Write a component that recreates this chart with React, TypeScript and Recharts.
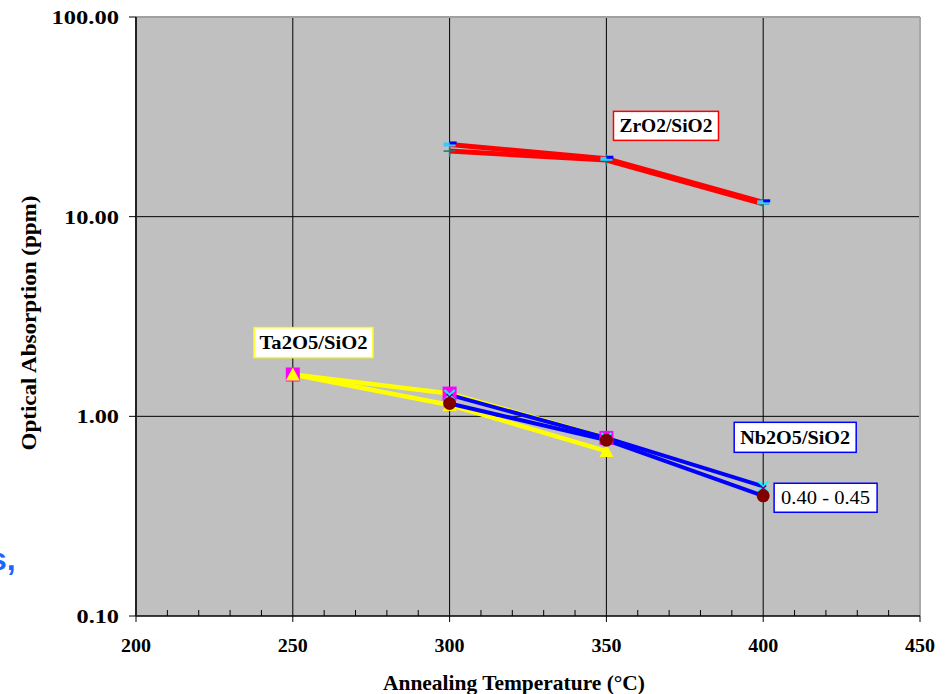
import React from 'react';
import { LineChart, Line, XAxis, YAxis, CartesianGrid, ReferenceLine, ReferenceDot, Label } from 'recharts';

// ---- data ----
const xTicks = [200, 210, 220, 230, 240, 250, 260, 270, 280, 290, 300, 310, 320, 330, 340, 350, 360, 370, 380, 390, 400, 410, 420, 430, 440, 450];
const yTicks = [0.1, 1, 10, 100];
const gridTemps = [250, 300, 350, 400];
const gridAbs = [1, 10];

const zrTemps = [300, 350, 400];
const zrA = [23.0, 19.5, 11.8];
const zrB = [21.3, 19.2, 11.6];

const taTemps = [250, 300, 350];
const taA = [1.62, 1.3, 0.78];
const taB = [1.62, 1.14, 0.67];

const nbTemps = [300, 350, 400];
const nbA = [1.28, 0.78, 0.446];
const nbB = [1.16, 0.76, 0.4];

const labels = [
  { t: 369, v: 28.5, text: 'ZrO2/SiO2', color: '#FF0000', w: 105, h: 29, bold: true, len: 93 },
  { t: 256.6, v: 2.34, text: 'Ta2O5/SiO2', color: '#FFFF00', w: 119, h: 30, bold: true, len: 108 },
  { t: 410.2, v: 0.785, text: 'Nb2O5/SiO2', color: '#0000FF', w: 122, h: 30, bold: true, len: 110 },
  { t: 419.9, v: 0.391, text: '0.40 - 0.45', color: '#0000FF', w: 103, h: 29, bold: false, len: 89 },
];

const toPts = (ts: number[], vs: number[]) => ts.map((t, i) => ({ t, v: vs[i] }));

const SERIF = '"Liberation Serif", "Times New Roman", serif';

// ---- markers ----
const ok = (p: any) => p && p.cx != null && p.cy != null && !isNaN(p.cx) && !isNaN(p.cy);
const Square = (p: any) => ok(p) ? <rect key={p.index} x={p.cx - 7} y={p.cy - 7} width={14} height={14} fill="#FF00FF" /> : <g key={p.index} />;
const Tri = (p: any) => ok(p) ? <polygon key={p.index} points={`${p.cx},${p.cy - 7} ${p.cx + 7},${p.cy + 6} ${p.cx - 7},${p.cy + 6}`} fill="#FFFF00" /> : <g key={p.index} />;
const XStar = (p: any) => ok(p) ? (
  <g key={p.index}>
    <line x1={p.cx - 5} y1={p.cy - 5} x2={p.cx + 5} y2={p.cy + 5} stroke="#00FFFF" strokeWidth={2} />
    <line x1={p.cx + 5} y1={p.cy - 5} x2={p.cx - 5} y2={p.cy + 5} stroke="#00FFFF" strokeWidth={2} />
    <line x1={p.cx - 3} y1={p.cy - 1} x2={p.cx + 3} y2={p.cy + 5} stroke="#800080" strokeWidth={1.5} />
    <line x1={p.cx + 3} y1={p.cy - 1} x2={p.cx - 3} y2={p.cy + 5} stroke="#800080" strokeWidth={1.5} />
  </g>
) : <g key={p.index} />;
const Circ = (p: any) => ok(p) ? <circle key={p.index} cx={p.cx} cy={p.cy} r={6.5} fill="#800000" /> : <g key={p.index} />;
const Dash = (p: any) => ok(p) ? (
  <g key={p.index}>
    <rect x={p.cx - 6} y={p.cy - 2} width={12} height={4} fill="#33CCFF" />
    <rect x={p.cx} y={p.cy - 3} width={7} height={3} fill="#0000FF" />
  </g>
) : <g key={p.index} />;
const Plus = (p: any) => ok(p) ? (
  <g key={p.index}>
    <line x1={p.cx - 6} y1={p.cy} x2={p.cx + 6} y2={p.cy} stroke="#008080" strokeWidth={1.5} />
    <line x1={p.cx} y1={p.cy - 6} x2={p.cx} y2={p.cy + 6} stroke="#008080" strokeWidth={1.5} />
  </g>
) : <g key={p.index} />;

// ---- ticks ----
const XTick = (props: any) => {
  const { x, y, payload } = props;
  const v = payload.value;
  if (v % 50 === 0) {
    return (
      <g>
        <line x1={x} y1={y} x2={x} y2={y + 6} stroke="#000" />
        <text x={x} y={y + 36} textAnchor="middle" fontFamily={SERIF} fontWeight="bold" fontSize={19} fill="#000" textLength={30} lengthAdjust="spacingAndGlyphs">{v}</text>
      </g>
    );
  }
  return <line x1={x} y1={y - 6} x2={x} y2={y} stroke="#000" />;
};

const YTick = (props: any) => {
  const { x, y, payload } = props;
  const s = Number(payload.value).toFixed(2);
  const digits = s.replace('.', '').length;
  const len = digits * 12.5 + 5;
  return (
    <text x={x} y={y} dy="0.36em" textAnchor="end" fontFamily={SERIF} fontWeight="bold" fontSize={19} fill="#000" textLength={len} lengthAdjust="spacingAndGlyphs">{s}</text>
  );
};

const BoxLabel = (cfg: typeof labels[number]) => (p: any) => {
  if (!ok(p)) return <g />;
  return (
    <g>
      <rect x={p.cx - cfg.w / 2} y={p.cy - cfg.h / 2} width={cfg.w} height={cfg.h} fill="#FFFFFF" stroke={cfg.color} strokeWidth={1.5} />
      <text x={p.cx} y={p.cy} dy="0.35em" textAnchor="middle" fontFamily={SERIF} fontWeight={cfg.bold ? 'bold' : 'normal'} fontSize={cfg.bold ? 19 : 19} fill="#000" textLength={cfg.len} lengthAdjust="spacingAndGlyphs">{cfg.text}</text>
    </g>
  );
};

export default function App() {
  return (
    <div style={{ position: 'absolute', left: 0, top: 0, width: 949, height: 694, background: '#fff', overflow: 'hidden' }}>
      <LineChart width={949} height={694} margin={{ top: 17, right: 29, bottom: 0, left: 0 }}>
        <CartesianGrid fill="#C0C0C0" stroke="#000" strokeWidth={1} horizontalValues={gridAbs} verticalValues={gridTemps} />
        <XAxis
          dataKey="t" type="number" domain={[200, 450]} ticks={xTicks} interval={0} height={78}
          tickLine={false} tickSize={0} tickMargin={0} tick={<XTick />}
          axisLine={{ stroke: '#000', strokeWidth: 1.5 }} allowDataOverflow
        >
          <Label content={() => (
            <text x={514} y={690} textAnchor="middle" fontFamily={SERIF} fontWeight="bold" fontSize={21} fill="#000" textLength={262} lengthAdjust="spacingAndGlyphs">Annealing Temperature (°C)</text>
          )} />
        </XAxis>
        <YAxis
          dataKey="v" type="number" scale="log" domain={[0.1, 100]} ticks={yTicks} interval={0} width={136}
          tickSize={7} tickMargin={10} tick={<YTick />} tickLine={{ stroke: '#000' }}
          axisLine={{ stroke: '#222', strokeWidth: 2 }} allowDataOverflow
        >
          <Label content={() => (
            <text x={0} y={0} transform="translate(36,323) rotate(-90)" textAnchor="middle" fontFamily={SERIF} fontWeight="bold" fontSize={21} fill="#000" textLength={255} lengthAdjust="spacingAndGlyphs">Optical Absorption (ppm)</text>
          )} />
        </YAxis>
        <ReferenceLine y={100} stroke="#A0A0A0" strokeWidth={2} />
        <ReferenceLine x={450} stroke="#A8A8A8" strokeWidth={2} />

        {/* line paths */}
        <Line data={toPts(taTemps, taB)} dataKey="v" stroke="#FFFF00" strokeWidth={4.5} dot={false} isAnimationActive={false} />
        <Line data={toPts(taTemps, taA)} dataKey="v" stroke="#FFFF00" strokeWidth={4.5} dot={false} isAnimationActive={false} />
        <Line data={toPts(nbTemps, nbA)} dataKey="v" stroke="#0000FF" strokeWidth={4} dot={false} isAnimationActive={false} />
        <Line data={toPts(nbTemps, nbB)} dataKey="v" stroke="#0000FF" strokeWidth={4} dot={false} isAnimationActive={false} />
        <Line data={toPts(zrTemps, zrB)} dataKey="v" stroke="#FF0000" strokeWidth={5} dot={false} isAnimationActive={false} />
        <Line data={toPts(zrTemps, zrA)} dataKey="v" stroke="#FF0000" strokeWidth={5} dot={false} isAnimationActive={false} />

        {/* markers */}
        <Line data={toPts(taTemps, taA)} dataKey="v" stroke="none" dot={Square} activeDot={false} isAnimationActive={false} />
        <Line data={toPts(taTemps, taB)} dataKey="v" stroke="none" dot={Tri} activeDot={false} isAnimationActive={false} />
        <Line data={toPts(nbTemps, nbA)} dataKey="v" stroke="none" dot={XStar} activeDot={false} isAnimationActive={false} />
        <Line data={toPts(nbTemps, nbB)} dataKey="v" stroke="none" dot={Circ} activeDot={false} isAnimationActive={false} />
        <Line data={toPts(zrTemps, zrB)} dataKey="v" stroke="none" dot={Plus} activeDot={false} isAnimationActive={false} />
        <Line data={toPts(zrTemps, zrA)} dataKey="v" stroke="none" dot={Dash} activeDot={false} isAnimationActive={false} />

        {labels.map((l) => (
          <ReferenceDot key={l.text} x={l.t} y={l.v} r={0} shape={BoxLabel(l)} />
        ))}
      </LineChart>
      <div style={{ position: 'absolute', left: -11, top: 543, fontFamily: '"Liberation Sans", Arial, sans-serif', fontWeight: 'bold', fontSize: 32, lineHeight: '32px', color: '#1E64FF', whiteSpace: 'nowrap' }}>s,</div>
    </div>
  );
}
